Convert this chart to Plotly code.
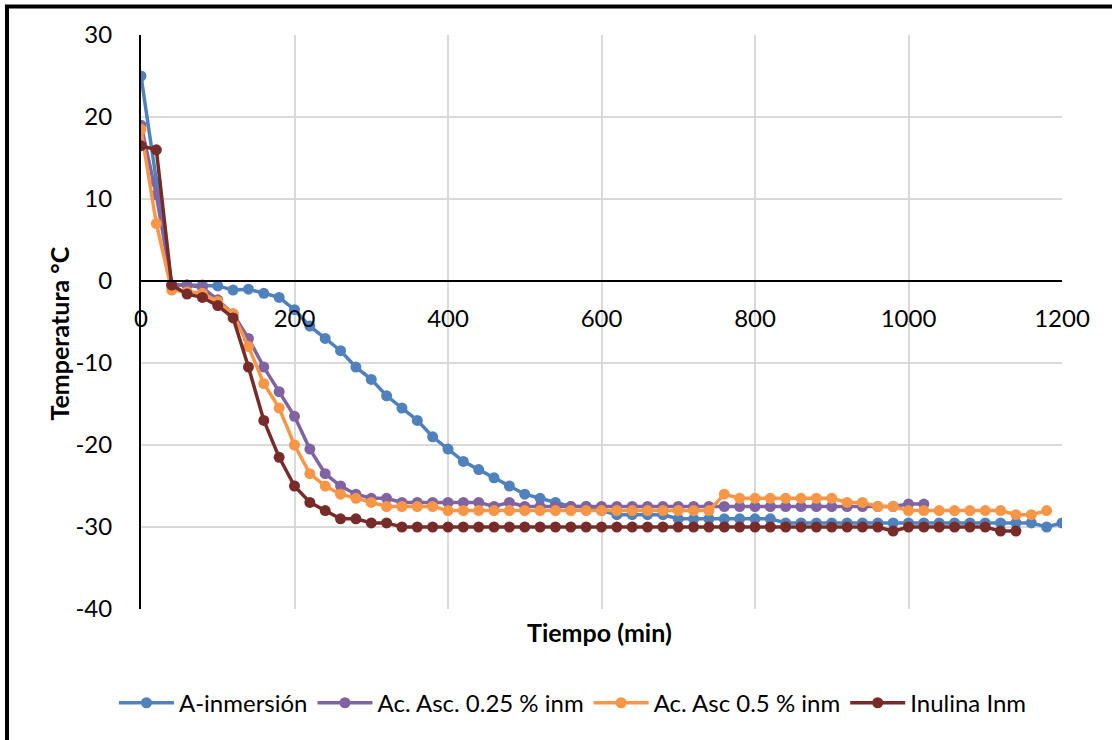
import plotly.graph_objects as go

# ---- data ----
t_blue = list(range(0, 1201, 20))
a_inmersion = [25, 12, -0.5, -0.5, -0.5, -0.6, -1.1, -1, -1.5, -2,
               -3.5, -5.5, -7, -8.5, -10.5, -12, -14, -15.5, -17, -19,
               -20.5, -22, -23, -24, -25, -26, -26.5, -27, -27.5, -27.5,
               -28, -28.5, -28.5, -28.5, -28.5, -29, -29, -29, -29, -29,
               -29, -29, -29.5, -29.5, -29.5, -29.5, -29.5, -29.5, -29.5, -29.5,
               -29.5, -29.5, -29.5, -29.5, -29.5, -29.5, -29.5, -29.5, -29.5, -30,
               -29.5]

t_purple = list(range(0, 1021, 20))
ac_025 = [19, 10.5, -0.5, -0.5, -0.8, -2.3, -4, -7, -10.5, -13.5,
          -16.5, -20.5, -23.5, -25, -26, -26.5, -26.5, -27, -27, -27,
          -27, -27, -27, -27.5, -27, -27.5, -27.5, -27.5, -27.5, -27.5,
          -27.5, -27.5, -27.5, -27.5, -27.5, -27.5, -27.5, -27.5, -27.5, -27.5,
          -27.5, -27.5, -27.5, -27.5, -27.5, -27.5, -27.5, -27.5, -27.5, -27.5,
          -27.2, -27.2]

t_orange = list(range(0, 1181, 20))
ac_05 = [18.5, 7, -1.1, -1.3, -1.5, -2.5, -4, -8, -12.5, -15.5,
         -20, -23.5, -25, -26, -26.5, -27, -27.5, -27.5, -27.5, -27.5,
         -28, -28, -28, -28, -28, -28, -28, -28, -28, -28,
         -28, -28, -28, -28, -28, -28, -28, -28, -26, -26.5,
         -26.5, -26.5, -26.5, -26.5, -26.5, -26.5, -27, -27, -27.5, -27.5,
         -28, -28, -28, -28, -28, -28, -28, -28.5, -28.5, -28]

t_brown = list(range(0, 1141, 20))
inulina = [16.5, 16, -0.5, -1.6, -2, -3, -4.5, -10.5, -17, -21.5,
           -25, -27, -28, -29, -29, -29.5, -29.5, -30, -30, -30,
           -30, -30, -30, -30, -30, -30, -30, -30, -30, -30,
           -30, -30, -30, -30, -30, -30, -30, -30, -30, -30,
           -30, -30, -30, -30, -30, -30, -30, -30, -30, -30.5,
           -30, -30, -30, -30, -30, -30, -30.5, -30.5]

names = ["A-inmersión", "Ac. Asc. 0.25 % inm", "Ac. Asc 0.5 % inm", "Inulina Inm"]
colors = ["#4F81BD", "#8064A2", "#F79646", "#772C2A"]
xs = [t_blue, t_purple, t_orange, t_brown]
ys = [a_inmersion, ac_025, ac_05, inulina]

y_tickvals = [30, 20, 10, 0, -10, -20, -30, -40]
y_ticktext = ["30", "20", "10", "0", "-10", "-20", "-30", "-40"]
x_tickvals = [0, 200, 400, 600, 800, 1000, 1200]
x_ticktext = ["0", "200", "400", "600", "800", "1000", "1200"]

FONT = "Lato"
TICK = 24

fig = go.Figure()
for x, y, n, c in zip(xs, ys, names, colors):
    fig.add_trace(go.Scatter(
        x=x, y=y, name=n, mode="lines+markers",
        line=dict(color=c, width=3.5),
        marker=dict(color=c, size=11, symbol="circle"),
    ))

fig.update_layout(
    width=1112, height=740,
    margin=dict(l=141, r=50, t=35, b=131),
    paper_bgcolor="white", plot_bgcolor="white",
    font=dict(family=FONT, size=TICK, color="black"),
    showlegend=True,
    legend=dict(orientation="h", x=0.469, xanchor="center", y=-0.164, yanchor="middle",
                font=dict(family=FONT, size=24, color="black"), itemwidth=55,
                tracegroupgap=0),
    xaxis=dict(range=[0, 1200], tickvals=x_tickvals, ticktext=x_ticktext,
               showgrid=True, gridcolor="#D9D9D9",
               gridwidth=1.5, zeroline=False, showline=True, linecolor="black", linewidth=2,
               anchor="free", position=40 / 70, side="bottom", ticks="",
               ticklabelstandoff=16, tickfont=dict(family=FONT, size=TICK)),
    yaxis=dict(range=[-40, 30], tickvals=y_tickvals, ticktext=y_ticktext,
               showgrid=True, gridcolor="#D9D9D9",
               gridwidth=1.5, zeroline=False, showline=True, linecolor="black", linewidth=2,
               ticks="", ticklabelstandoff=22, tickfont=dict(family=FONT, size=TICK)),
    annotations=[
        dict(text="<b>Tiempo (min)</b>", xref="paper", yref="paper", x=0.498, y=-0.040,
             xanchor="center", yanchor="middle", showarrow=False,
             font=dict(family=FONT, size=25, color="black")),
        dict(text="<b>Temperatura °C</b>", xref="paper", yref="paper", x=-0.089, y=0.48,
             xanchor="center", yanchor="middle", showarrow=False, textangle=-90,
             font=dict(family=FONT, size=25, color="black")),
    ],
    shapes=[
        dict(type="rect", xref="paper", yref="paper", x0=-0.1455, x1=1.3, y0=-0.5, y1=1.0497,
             line=dict(color="black", width=4), fillcolor="rgba(0,0,0,0)", layer="below"),
    ],
)

fig.write_html("out.html")
